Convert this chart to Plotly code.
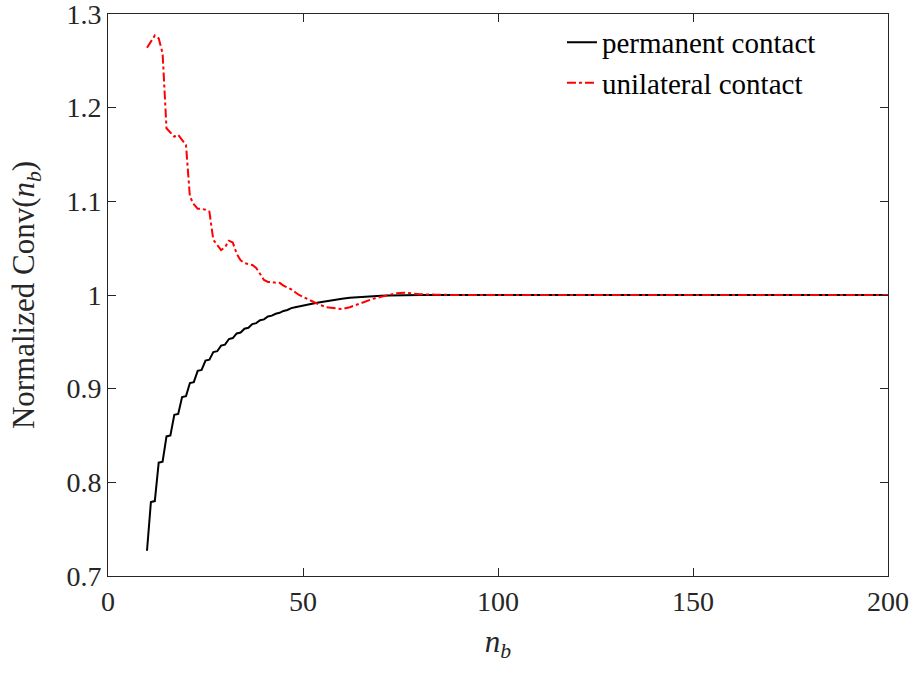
import plotly.graph_objects as go

# permanent contact
perm_x = list(range(10, 49)) + [50, 52, 54, 56, 58, 60, 62, 64, 66, 68, 70, 72, 74, 76, 78, 80, 200]
perm_y = [0.727, 0.779, 0.780, 0.821, 0.822, 0.849, 0.850, 0.872, 0.873, 0.891,
          0.892, 0.906, 0.907, 0.919, 0.920, 0.930, 0.931, 0.939, 0.940, 0.946,
          0.947, 0.953, 0.954, 0.959, 0.960, 0.964, 0.965, 0.969, 0.970, 0.973,
          0.974, 0.977, 0.978, 0.980, 0.981, 0.983, 0.984, 0.986, 0.987,
          0.989, 0.9905, 0.992, 0.9935, 0.995, 0.996, 0.997, 0.9977, 0.9983, 0.9988,
          0.9992, 0.9995, 0.9997, 0.9999, 1.0, 1.0, 1.0]

# unilateral contact
uni_x = list(range(10, 50)) + [50, 52, 54, 56, 58, 60, 62, 64, 66, 68, 70, 72, 74, 76, 78, 80, 84, 90, 200]
uni_y = [1.264, 1.270, 1.277, 1.274, 1.258, 1.178, 1.173, 1.169, 1.171, 1.166,
         1.160, 1.105, 1.097, 1.092, 1.092, 1.091, 1.089, 1.059, 1.053, 1.048,
         1.051, 1.058, 1.056, 1.044, 1.037, 1.034, 1.033, 1.032, 1.029, 1.022,
         1.016, 1.014, 1.014, 1.013, 1.013, 1.010, 1.008, 1.006, 1.003, 1.000,
         0.998, 0.994, 0.990, 0.987, 0.986, 0.985, 0.987, 0.990, 0.993, 0.996,
         0.998, 1.000, 1.002, 1.0025, 1.0015, 1.0008, 1.0003, 1.0, 1.0]

x_ticks = [0, 50, 100, 150, 200]
y_ticks = [0.7, 0.8, 0.9, 1.0, 1.1, 1.2, 1.3]
y_tick_text = ["0.7", "0.8", "0.9", "1", "1.1", "1.2", "1.3"]

FONT = "Liberation Serif"
TXT = "#262626"

fig = go.Figure()
fig.add_trace(go.Scatter(x=perm_x, y=perm_y, mode="lines", name="permanent contact",
                         line=dict(color="black", width=2)))
fig.add_trace(go.Scatter(x=uni_x, y=uni_y, mode="lines", name="unilateral contact",
                         line=dict(color="red", width=2, dash="9px,3px,3px,3px")))

axis_common = dict(showgrid=False, zeroline=False, showline=True, linecolor=TXT,
                   linewidth=1, mirror="ticks", ticks="inside", ticklen=8,
                   tickcolor=TXT, automargin=False, ticklabeloverflow="allow",
                   tickfont=dict(family=FONT, size=28, color=TXT))

fig.update_xaxes(range=[0, 200], tickvals=x_ticks, **axis_common,
                 title=dict(text="<i>n</i><sub><i>b</i></sub>",
                            font=dict(family=FONT, size=31, color=TXT), standoff=14))
fig.update_yaxes(range=[0.7, 1.30001], tickvals=y_ticks, ticktext=y_tick_text, **axis_common,
                 title=dict(text="Normalized Conv(<i>n</i><sub><i>b</i></sub>)",
                            font=dict(family=FONT, size=31, color=TXT), standoff=22))

fig.update_layout(
    width=915, height=677,
    margin=dict(l=108, r=27, t=14, b=101),
    plot_bgcolor="white", paper_bgcolor="white",
    legend=dict(x=0.582, y=0.995, xanchor="left", yanchor="top",
                font=dict(family=FONT, size=29, color="black"),
                bgcolor="rgba(0,0,0,0)", borderwidth=0, tracegroupgap=0),
    showlegend=True,
)

fig.write_html("out.html")
